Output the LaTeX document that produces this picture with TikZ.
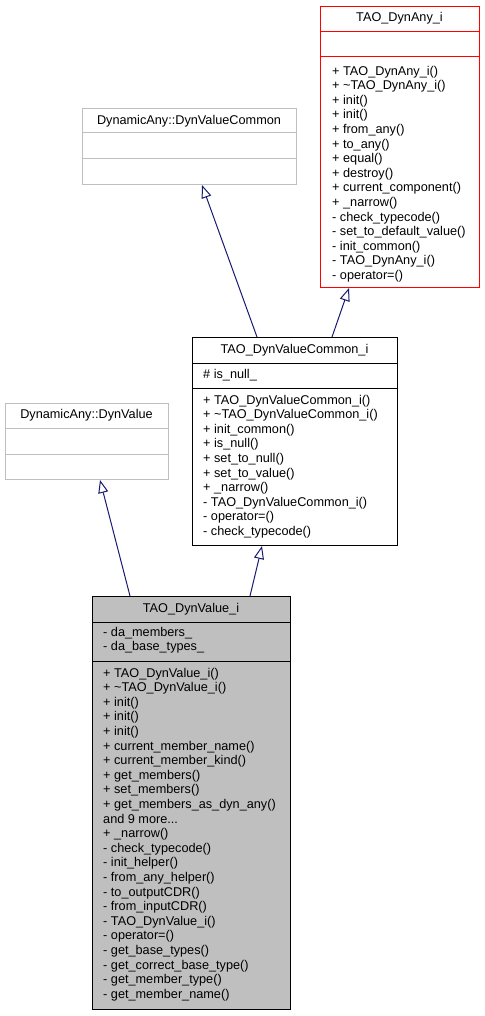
\documentclass[tikz,border=0pt]{standalone}
\usepackage{fontspec}
\setmainfont{Liberation Sans}
\usepackage{xcolor}
\usetikzlibrary{positioning,calc,arrows.meta}
\definecolor{edgeblue}{HTML}{191970}
\definecolor{boxgrey}{HTML}{BFBFBF}

\begin{document}
\begin{tikzpicture}[x=1pt, y=-1pt,
    box/.style={draw, rectangle, inner sep=0pt, line width=1pt, anchor=north west},
    title/.style={inner sep=0pt, anchor=base},
    members/.style={inner sep=0pt, anchor=base west, align=left},
    inherit/.style={draw=edgeblue, line width=1pt, -{Triangle[open, length=13pt, width=10pt]}},
    font=\fontsize{12.7}{14.6}\selectfont]
    \useasboundingbox (0,0) rectangle (484,1016);

    % TAO_DynAny_i
    \node [box, draw=red, minimum width=159, minimum height=281] (dynany) at (320,6) {};
    \draw [red, line width=1pt] (320,32) -- (479,32) (320,57) -- (479,57);
    \node [title] (dynanyname) at (399.5,22) {TAO\_DynAny\_i};
    % members are placed by the baseline of their last line
    \node [members] (dynanyops) at (332,279.4) {+ TAO\_DynAny\_i()\\+ \textasciitilde TAO\_DynAny\_i()\\+ init()\\+ init()\\+ from\_any()\\+ to\_any()\\+ equal()\\+ destroy()\\+ current\_component()\\+ \_narrow()\\- check\_typecode()\\- set\_to\_default\_value()\\- init\_common()\\- TAO\_DynAny\_i()\\- operator=()};

    % DynamicAny::DynValueCommon
    \node [box, draw=boxgrey, minimum width=214, minimum height=76] (dynvc) at (82,108) {};
    \draw [boxgrey, line width=1pt] (82,133) -- (296,133) (82,159) -- (296,159);
    \node [title] (dynvcname) at (189,125) {DynamicAny::DynValueCommon};

    % TAO_DynValueCommon_i
    \node [box, minimum width=205, minimum height=208] (dynvci) at (192,337) {};
    \draw [line width=1pt] (192,363) -- (397,363) (192,388) -- (397,388);
    \node [title] (dynvciname) at (294.5,353) {TAO\_DynValueCommon\_i};
    \node [members] (dynvciattr) at (203,378) {\# is\_null\_};
    \node [members] (dynvciops) at (203,535.4) {+ TAO\_DynValueCommon\_i()\\+ \textasciitilde TAO\_DynValueCommon\_i()\\+ init\_common()\\+ is\_null()\\+ set\_to\_null()\\+ set\_to\_value()\\+ \_narrow()\\- TAO\_DynValueCommon\_i()\\- operator=()\\- check\_typecode()};

    % DynamicAny::DynValue
    \node [box, draw=boxgrey, minimum width=163, minimum height=76] (dynv) at (5,403) {};
    \draw [boxgrey, line width=1pt] (5,428) -- (168,428) (5,454) -- (168,454);
    \node [title] (dynvname) at (86.5,418) {DynamicAny::DynValue};

    % TAO_DynValue_i
    \node [box, fill=boxgrey, minimum width=198, minimum height=413] (dynvi) at (92,596) {};
    \draw [line width=1pt] (92,622) -- (290,622) (92,661) -- (290,661);
    \node [title] (dynviname) at (191,612) {TAO\_DynValue\_i};
    \node [members] (dynviattr) at (103,650.6) {- da\_members\_\\- da\_base\_types\_};
    \node [members] (dynviops) at (103,998.2) {+ TAO\_DynValue\_i()\\+ \textasciitilde TAO\_DynValue\_i()\\+ init()\\+ init()\\+ init()\\+ current\_member\_name()\\+ current\_member\_kind()\\+ get\_members()\\+ set\_members()\\+ get\_members\_as\_dyn\_any()\\and 9 more...\\+ \_narrow()\\- check\_typecode()\\- init\_helper()\\- from\_any\_helper()\\- to\_outputCDR()\\- from\_inputCDR()\\- TAO\_DynValue\_i()\\- operator=()\\- get\_base\_types()\\- get\_correct\_base\_type()\\- get\_member\_type()\\- get\_member\_name()};

    % inheritance
    \draw [inherit] ($(dynvci.north west)+(65,0)$) -- ($(dynvc.south west)+(120,0)$);
    \draw [inherit] ($(dynvci.north west)+(140,0)$) -- ($(dynany.south west)+(29,0)$);
    \draw [inherit] ($(dynvi.north west)+(38,0)$) -- ($(dynv.south west)+(95,0)$);
    \draw [inherit] ($(dynvi.north west)+(158,0)$) -- ($(dynvci.south west)+(70,0)$);
\end{tikzpicture}
\end{document}
